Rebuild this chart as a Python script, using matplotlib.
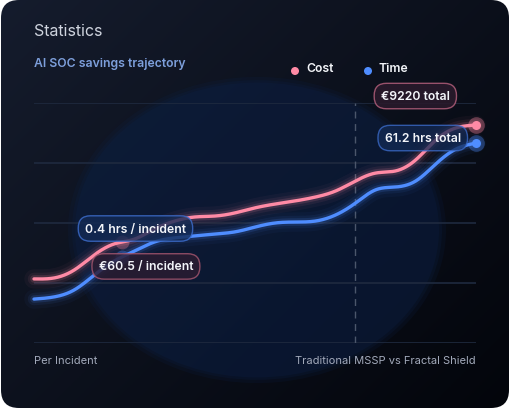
import matplotlib.pyplot as plt
import numpy as np
from matplotlib.patches import FancyBboxPatch, Ellipse, Circle

plt.rcParams['font.family'] = ['Inter', 'DejaVu Sans']

# data (index scale 0..100)
steps = np.arange(23)
cost = [26.7, 27.1, 30.4, 36.7, 41.3, 43.3, 47.5, 50.8, 52.5, 52.9, 54.2, 56.3,
        57.9, 59.2, 60.8, 63.3, 67.5, 70.8, 71.7, 76.3, 84.6, 89.6, 90.8]
time = [18.3, 19.2, 22.1, 28.3, 34.2, 38.3, 42.1, 43.8, 44.6, 45.4, 46.3, 48.3,
        50.0, 50.4, 50.8, 53.3, 58.3, 63.8, 65.0, 67.5, 74.6, 80.8, 83.3]
grid_vals = [0, 25, 50, 75, 100]
split_at = 16
per_step = 4.4
labels = ["0.4 hrs / incident", "€60.5 / incident", "€9220 total", "61.2 hrs total"]

PINK = '#ff8aa5'
BLUE = '#4f8dff'


def spline(x, y, xs):
    # natural cubic spline, used only to draw a smooth line through the points
    x = np.asarray(x, float); y = np.asarray(y, float)
    n = len(x); h = np.diff(x)
    A = np.zeros((n, n)); r = np.zeros(n)
    A[0, 0] = A[-1, -1] = 1
    for k in range(1, n - 1):
        A[k, k-1] = h[k-1]; A[k, k] = 2*(h[k-1] + h[k]); A[k, k+1] = h[k]
        r[k] = 6*((y[k+1] - y[k])/h[k] - (y[k] - y[k-1])/h[k-1])
    M = np.linalg.solve(A, r)
    i = np.clip(np.searchsorted(x, xs) - 1, 0, n - 2)
    a = x[i+1] - xs; b = xs - x[i]; hi = h[i]
    return (M[i]*a**3 + M[i+1]*b**3)/(6*hi) + (y[i]/hi - M[i]*hi/6)*a + (y[i+1]/hi - M[i+1]*hi/6)*b


fig = plt.figure(figsize=(5.1, 4.1), dpi=100, facecolor='white')

# card background
bg = fig.add_axes([0, 0, 1, 1])
bg.set_xlim(0, 510); bg.set_ylim(410, 0); bg.axis('off')
card = FancyBboxPatch((1, 1), 508, 408, boxstyle='round,pad=0,rounding_size=18',
                      fc='none', ec='none')
bg.add_patch(card)
gx, gy = np.meshgrid(np.linspace(0, 1, 200), np.linspace(0, 1, 200))
g = (gx * 0.55 + gy * 0.45)
c0 = np.array([0x15, 0x1c, 0x2d]) / 255
c1 = np.array([0x03, 0x05, 0x0b]) / 255
img = c0[None, None, :] * (1 - g[..., None]) + c1[None, None, :] * g[..., None]
im = bg.imshow(img, extent=(0, 510, 410, 0), aspect='auto', zorder=0)
im.set_clip_path(card)
for w, a in [(378, 0.18), (370, 0.22), (364, 0.26)]:
    e = Ellipse((257, 231), w, w * 0.81, fc='#0c2148', ec='none', alpha=a, zorder=1)
    bg.add_patch(e)
    e.set_clip_path(card)

bg.text(34, 32, "Statistics", color='#cfd4de', fontsize=11.5, va='center', ha='left')
bg.text(34, 64, "AI SOC savings trajectory", color='#7d9fdb', fontsize=8.8,
        fontweight='semibold', va='center', ha='left')
bg.text(34, 361, "Per Incident", color='#a3aabb', fontsize=8, va='center', ha='left')
bg.text(476, 361, "Traditional MSSP vs Fractal Shield", color='#a3aabb', fontsize=8,
        va='center', ha='right')

# legend
bg.add_patch(Circle((295, 72), 4, fc=PINK, ec='none', zorder=3))
bg.text(306, 69, "Cost", color='#f2f4f8', fontsize=8.8, fontweight='semibold', va='center')
bg.add_patch(Circle((368, 72), 4, fc=BLUE, ec='none', zorder=3))
bg.text(379, 69, "Time", color='#f2f4f8', fontsize=8.8, fontweight='semibold', va='center')

# plot area
ax = fig.add_axes([34/510, 1 - 344/410, 442/510, 240/410])
ax.set_facecolor('none')
ax.set_xlim(0, 22); ax.set_ylim(0, 100)
for s in ax.spines.values():
    s.set_visible(False)
ax.set_xticks([]); ax.set_yticks([])
for v in grid_vals:
    ax.axhline(v, color='#1f2a3f', lw=1.2, zorder=1)
ax.axvline(split_at, ymin=0, ymax=1, color='#4b566b', lw=1, ls=(0, (5, 4)), zorder=1)

xs = np.linspace(0, 22, 800)
for vals, col in [(cost, PINK), (time, BLUE)]:
    ys = spline(steps, vals, xs)
    for lw, a in [(14, 0.04), (9, 0.07), (5.5, 0.14)]:
        ax.plot(xs, ys, color=col, lw=lw, alpha=a, solid_capstyle='round', clip_on=False, zorder=2)
    ax.plot(xs, ys, color=col, lw=2.4, solid_capstyle='round', clip_on=False, zorder=3)
    # end marker
    ax.plot([22], [vals[-1]], 'o', ms=12, color=col, alpha=0.35, mec='none', clip_on=False, zorder=4)
    ax.plot([22], [vals[-1]], 'o', ms=6.5, color=col, mec='none', clip_on=False, zorder=5)
    # per-incident marker
    yp = spline(steps, vals, np.array([per_step]))[0]
    ax.plot([per_step], [yp], 'o', ms=10, color=col, alpha=0.3, mec='none', clip_on=False, zorder=4)

box_kw = dict(color='#f3f5fa', fontsize=8.8, fontweight='semibold', ha='center', va='center', zorder=6)
bstyle = 'round,pad=0.55,rounding_size=1.0'
ax.text(5.05, 47.7, labels[0], bbox=dict(boxstyle=bstyle,
        fc='#132a55', ec='#3e6fd0', lw=1, alpha=0.8), **box_kw)
ax.text(5.57, 31.9, labels[1], bbox=dict(boxstyle=bstyle,
        fc='#2b1c31', ec='#a5566f', lw=1, alpha=0.82), **box_kw)
ax.text(18.98, 102.9, labels[2], bbox=dict(boxstyle=bstyle,
        fc='#2a1a2c', ec='#b05d79', lw=1, alpha=0.85), **box_kw)
ax.text(19.35, 85.4, labels[3], bbox=dict(boxstyle=bstyle,
        fc='#132a55', ec='#3e6fd0', lw=1, alpha=0.75), **box_kw)

fig.savefig('out.png', dpi=100, facecolor='white')
